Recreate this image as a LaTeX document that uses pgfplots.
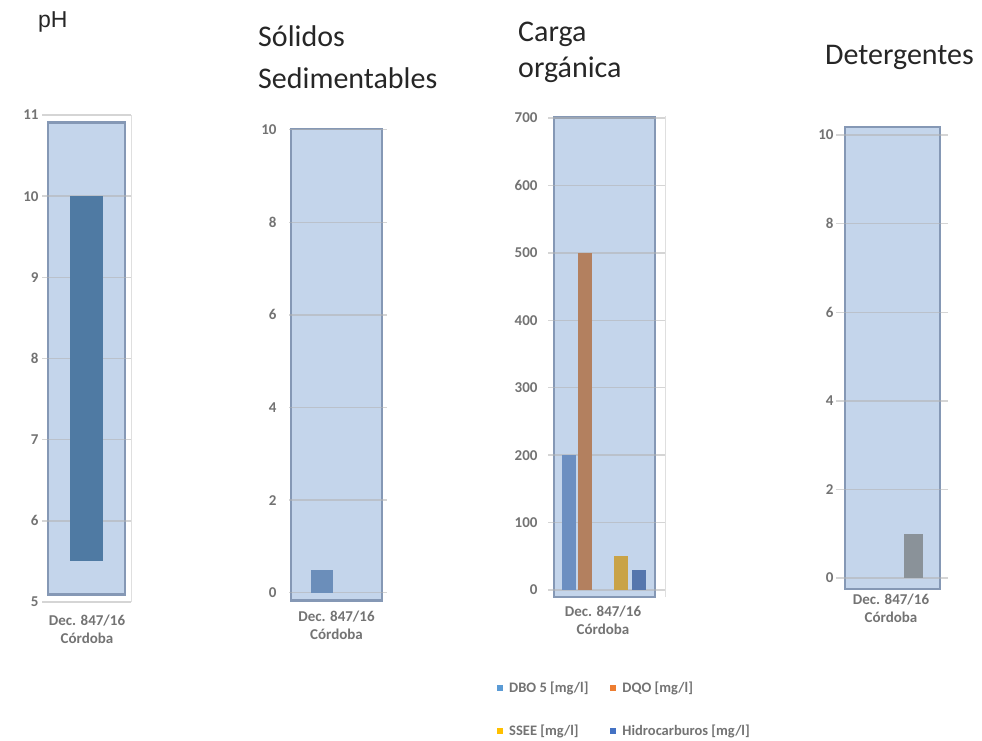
\documentclass[border=0pt]{standalone}
\usepackage{fontspec}
\setmainfont{Carlito}
\newfontfamily\arialf{Liberation Sans}
\usepackage{pgfplots}
\pgfplotsset{compat=1.18}
\definecolor{boxfill}{HTML}{C4D5EB}
\definecolor{boxedge}{HTML}{8598B5}
\definecolor{phbar}{HTML}{4F7AA3}
\definecolor{solbar}{HTML}{6B8EBA}
\definecolor{dbo}{HTML}{6C8FC1}
\definecolor{dqo}{HTML}{B3805F}
\definecolor{ssee}{HTML}{C9A347}
\definecolor{hidro}{HTML}{5576AD}
\definecolor{detbar}{HTML}{8A9299}
\definecolor{dboL}{HTML}{5B9BD5}
\definecolor{dqoL}{HTML}{ED7D31}
\definecolor{sseeL}{HTML}{FFC000}
\definecolor{hidroL}{HTML}{4472C4}
\definecolor{tickgray}{HTML}{737373}
\definecolor{titlecol}{HTML}{262626}
\pgfplotsset{
  panel/.style={
    scale only axis, set layers, clip=false, anchor=south west,
    axis line style={draw=none}, tick style={draw=none},
    ymajorgrids,
    major grid style={draw=gray!60, line width=1.4pt, draw opacity=0.55},
    yticklabel style={font=\fontsize{15}{16}\selectfont\bfseries, text=tickgray},
    xticklabel style={font=\fontsize{15}{18}\selectfont\bfseries, text=tickgray, align=center},
    /pgf/number format/assume math mode=true,
  },
  boxst/.style={fill=boxfill, draw=boxedge, line width=2.4pt, on layer=axis background, forget plot},
}
\begin{document}
\begin{tikzpicture}
\path (0pt,0pt) rectangle (982pt,-740pt);

% pH
\begin{axis}[panel, at={(42pt,-602pt)}, width=89pt, height=487pt,
  xmin=42, xmax=131, ymin=5, ymax=11, ytick={5,6,...,11},
  xtick={87}, xticklabels={Dec. 847/16\\Córdoba},
  xticklabel style={yshift=-9pt}]
\addplot[boxst] coordinates {(48,5.09) (125,5.09) (125,10.91) (48,10.91)} -- cycle;
\addplot[fill=phbar, draw=none] coordinates {(70,5.5) (103,5.5) (103,10) (70,10)} -- cycle;
\draw[draw=gray!25, line width=1pt] (rel axis cs:1,0) -- (rel axis cs:1,1);
\end{axis}

% Solidos sedimentables
\begin{axis}[panel, at={(289pt,-602pt)}, width=98pt, height=474.6pt,
  xmin=289, xmax=387, ymin=-0.2, ymax=10.05, ytick={0,2,...,10},
  yticklabel style={xshift=-9pt},
  xtick={336.5}, xticklabels={Dec. 847/16\\Córdoba},
  xticklabel style={yshift=-5pt}]
\addplot[boxst] coordinates {(291,-0.17) (382,-0.17) (382,10.02) (291,10.02)} -- cycle;
\addplot[ybar, bar width=22, bar shift=0pt, fill=solbar, draw=none] coordinates {(322,0.5)};
\end{axis}

% Carga organica
\begin{axis}[panel, at={(548pt,-597.4pt)}, width=117pt, height=481.4pt,
  xmin=548, xmax=665, ymin=-11, ymax=703, ytick={0,100,...,700},
  yticklabel style={xshift=-7pt},
  xtick={603}, xticklabels={Dec. 847/16\\Córdoba},
  xticklabel style={yshift=-5pt},
  legend columns=2,
  legend style={at={(axis description cs:-0.4615,-0.166)}, anchor=north west,
    draw=none, fill=none, font=\fontsize{14.5}{15}\selectfont\bfseries, text=tickgray,
    /tikz/every odd column/.append style={column sep=4pt},
    /tikz/every even column/.append style={column sep=20pt}, row sep=27pt},
  legend cell align=left,
  legend image code/.code={\fill[#1, draw=none] (0pt,-3pt) rectangle (6pt,3pt);}]
\addplot[boxst] coordinates {(554,-10) (655,-10) (655,701) (554,701)} -- cycle;
\addplot[ybar, bar width=14, bar shift=0pt, fill=dbo, draw=none, forget plot] coordinates {(568.5,200)};
\addplot[ybar, bar width=14, bar shift=0pt, fill=dqo, draw=none, forget plot] coordinates {(585,500)};
\addplot[ybar, bar width=14, bar shift=0pt, fill=ssee, draw=none, forget plot] coordinates {(620.5,50)};
\addplot[ybar, bar width=14, bar shift=0pt, fill=hidro, draw=none, forget plot] coordinates {(638.5,30)};
\draw[draw=gray!25, line width=1pt] (rel axis cs:1,0) -- (rel axis cs:1,1);
\addlegendimage{fill=dboL, draw=none}
\addlegendentry{DBO 5 [mg/l]}
\addlegendimage{fill=dqoL, draw=none}
\addlegendentry{DQO [mg/l]}
\addlegendimage{fill=sseeL, draw=none}
\addlegendentry{SSEE [mg/l]}
\addlegendimage{fill=hidroL, draw=none}
\addlegendentry{Hidrocarburos [mg/l]}
\end{axis}

% Detergentes
\begin{axis}[panel, at={(836pt,-590pt)}, width=112pt, height=463.8pt,
  xmin=836, xmax=948, ymin=-0.27, ymax=10.2, ytick={0,2,...,10},
  yticklabel style={xshift=1pt},
  xtick={891}, xticklabels={Dec. 847/16\\Córdoba},
  xticklabel style={yshift=0pt}]
\addplot[boxst] coordinates {(845,-0.25) (940,-0.25) (940,10.18) (845,10.18)} -- cycle;
\addplot[ybar, bar width=19, bar shift=0pt, fill=detbar, draw=none] coordinates {(913.5,1)};
\end{axis}

% titles
\node[anchor=base west, inner sep=0pt, text=titlecol, font=\arialf\fontsize{23}{26}\selectfont] at (38pt,-28pt) {pH};
\node[anchor=base west, inner sep=0pt, text=titlecol, font=\fontsize{30}{34}\selectfont] at (258pt,-47pt) {Sólidos};
\node[anchor=base west, inner sep=0pt, text=titlecol, font=\fontsize{30}{34}\selectfont] at (258pt,-89pt) {Sedimentables};
\node[anchor=base west, inner sep=0pt, text=titlecol, font=\fontsize{30}{34}\selectfont] at (518pt,-42pt) {Carga};
\node[anchor=base west, inner sep=0pt, text=titlecol, font=\fontsize{30}{34}\selectfont] at (518pt,-78pt) {orgánica};
\node[anchor=base west, inner sep=0pt, text=titlecol, font=\fontsize{30}{34}\selectfont] at (825pt,-65pt) {Detergentes};
\end{tikzpicture}
\end{document}
